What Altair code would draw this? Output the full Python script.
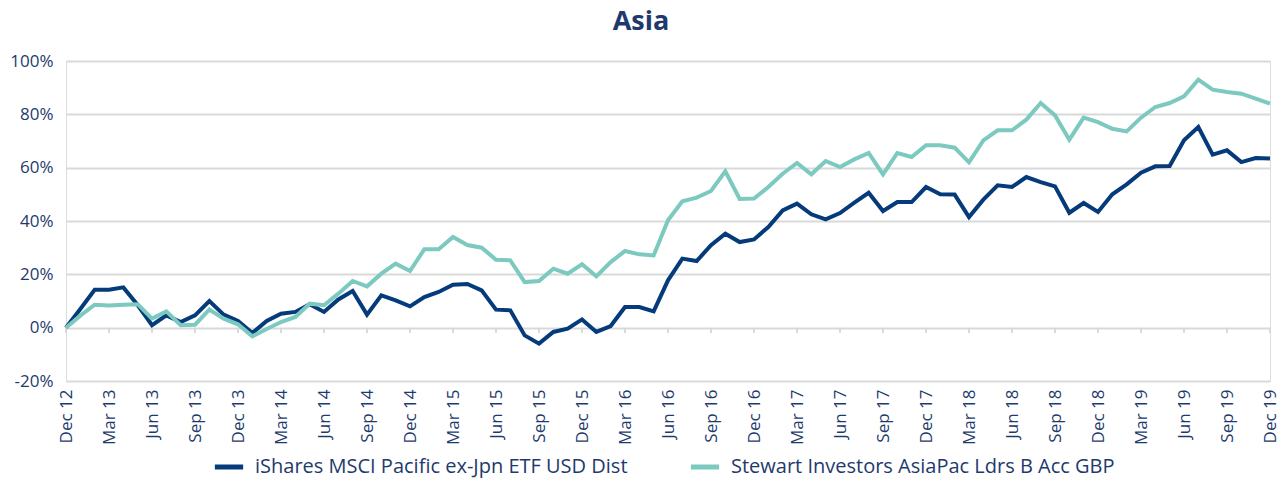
import altair as alt
import pandas as pd

months = [d.strftime("%b %y") for d in pd.date_range("2012-12-01", "2019-12-01", freq="MS")]
quarter_labels = months[::3]

series_names = ["iShares MSCI Pacific ex-Jpn ETF USD Dist",
                "Stewart Investors AsiaPac Ldrs B Acc GBP"]

ishares = [0, 7, 14.2, 14.2, 15.1, 8.5, 0.9, 4.6, 2.1, 4.6, 10, 4.9, 2.5, -2, 2.5,
           5.25, 5.9, 8.75, 5.9, 10.6, 13.75, 4.9, 12.1, 10.25, 8, 11.5, 13.4, 16.1, 16.4,
           14, 6.75, 6.5, -2.9, -6, -1.6, -0.4, 3.1, -1.6, 0.6, 7.75, 7.75, 6.1,
           17.75, 25.9, 25, 30.9, 35.25, 32.1, 33.1, 37.75, 44, 46.5, 42.5, 40.6, 43,
           46.9, 50.6, 43.75, 47.1, 47.1, 52.75, 50, 49.9, 41.5,
           48, 53.4, 52.75, 56.5, 54.6, 53, 43.1, 46.75, 43.4, 50, 53.75, 58.1, 60.5,
           60.6, 70.25, 75.25, 64.9, 66.5, 62.1, 63.6, 63.4]

stewart = [0, 4.5, 8.6, 8.3, 8.6, 8.8, 3.4, 6.1, 0.9, 1.1, 6.75, 3.4, 1.25, -3.25, -0.5,
           2.1, 4, 9, 8.4, 12.75, 17.5, 15.5, 20.25, 24, 21.25, 29.4, 29.4, 34, 31,
           30, 25.5, 25.25, 17.1, 17.5, 22.1, 20.25, 23.75, 19.25, 24.6, 28.75, 27.5, 27.1,
           40.25, 47.4, 48.75, 51.25, 58.6, 48.25, 48.4, 52.75, 57.75, 61.75, 57.5, 62.5,
           60.25, 63.1, 65.5, 57.5, 65.5, 64, 68.4, 68.4, 67.5, 62,
           70.25, 74, 74, 78, 84.25, 79.6, 70.5, 78.75, 77.1, 74.6, 73.6, 78.75, 82.75,
           84.25, 86.75, 93, 89.25, 88.4, 87.75, 85.9, 84]

NAVY = "#053b7a"
TEAL = "#7cc9c0"
TEXT = "#1e3a6d"
GRID = "#d9d9d9"
FONT = "Open Sans"

df = pd.DataFrame({
    "month": months * 2,
    "value": ishares + stewart,
    "series": [series_names[0]] * len(months) + [series_names[1]] * len(months),
})
ticks_df = pd.DataFrame({"month": quarter_labels})

x_scale = alt.Scale(type="point", padding=0, domain=months)
y_scale = alt.Scale(domain=[-20, 100], nice=False, zero=False)

lines = alt.Chart(df).mark_line(strokeWidth=4, strokeJoin="miter").encode(
    x=alt.X("month:O", scale=x_scale, sort=months,
            axis=alt.Axis(values=quarter_labels, labelAngle=270, labelFontSize=17,
                          labelColor=TEXT, labelFont=FONT, ticks=False, domain=False,
                          grid=False, title=None, labelPadding=8, labelAlign="right",
                          labelBaseline="middle")),
    y=alt.Y("value:Q", scale=y_scale,
            axis=alt.Axis(values=[-20, 0, 20, 40, 60, 80, 100], labelExpr="datum.value + '%'",
                          labelFontSize=17, labelColor=TEXT, labelFont=FONT, ticks=False,
                          domain=False, grid=True, gridColor=GRID, gridWidth=2,
                          title=None, labelPadding=13)),
    color=alt.Color("series:N", scale=alt.Scale(domain=series_names, range=[NAVY, TEAL]),
                    legend=alt.Legend(title=None, orient="none", legendX=146, legendY=389,
                                      direction="horizontal", symbolType="stroke",
                                      symbolStrokeWidth=5, symbolSize=800,
                                      labelFontSize=20, labelColor=TEXT, labelFont=FONT,
                                      labelLimit=0, columnPadding=52, labelOffset=9)),
)

tick_marks = alt.Chart(ticks_df).mark_rule(color=GRID, strokeWidth=2).encode(
    x=alt.X("month:O", scale=x_scale, sort=months),
    y=alt.datum(0),
    y2=alt.datum(-2),
)

chart = alt.layer(tick_marks, lines).properties(
    width=1204, height=320,
    title=alt.TitleParams("Asia", fontSize=27, fontWeight="bold", color=TEXT, font=FONT,
                          anchor="middle", dx=-27, offset=16),
    autosize=alt.AutoSizeParams(type="none"),
    padding={"left": 66, "top": 61, "right": 12, "bottom": 108},
).configure_view(stroke=None).configure(background="white")

chart.save("out.html", embed_options={"renderer": "svg", "actions": False})
